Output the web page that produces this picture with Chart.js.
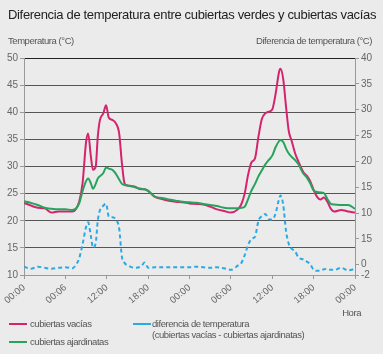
<!DOCTYPE html>
<html>
<head>
<meta charset="utf-8">
<script src="https://cdn.jsdelivr.net/npm/chart.js@4"></script>
<style>
  body { margin: 0; background: #ebebeb; }
  #wrap { position: relative; width: 383px; height: 354px; font-family: "Liberation Sans", Arial, sans-serif; color: #555; overflow: hidden; }
  #wrap canvas { position: absolute; left: 0; top: 0; }
  .txt { position: absolute; white-space: nowrap; }
  .title { left: 8px; top: 7px; font-size: 13px; color: #222; letter-spacing: -0.33px; }
  .axt { top: 35px; font-size: 9.5px; letter-spacing: -0.45px; }
  .leg { font-size: 9.5px; letter-spacing: -0.45px; line-height: 11px; }
  .sw { position: absolute; height: 2px; width: 18px; }
</style>
</head>
<body>
<div id="wrap">
  <canvas id="chart" width="383" height="354"></canvas>
  <div class="txt title">Diferencia de temperatura entre cubiertas verdes y cubiertas vacías</div>
  <div class="txt axt" style="left:8px">Temperatura (°C)</div>
  <div class="txt axt" style="right:11px">Diferencia de temperatura (°C)</div>
  <div class="txt leg" style="right:22px;top:307px">Hora</div>
  <div class="sw" style="left:9px;top:323px;background:#d4246e"></div>
  <div class="txt leg" style="left:30px;top:318px">cubiertas vacías</div>
  <div class="sw" style="left:9px;top:341px;background:#27a35b"></div>
  <div class="txt leg" style="left:30px;top:336px">cubiertas ajardinatas</div>
  <div class="sw" style="left:133px;top:323px;background:#2aaae2"></div>
  <div class="txt leg" style="left:152px;top:318px">diferencia de temperatura<br>(cubiertas vacías - cubiertas ajardinatas)</div>
</div>
<script>
const hours = [0, 1, 2, 3, 4, 5, 6, 7, 7.5, 8, 8.5, 9, 9.3, 9.7, 10, 10.4, 10.7, 11, 11.5, 11.9,
  12.3, 12.8, 13.3, 13.8, 14.2, 14.6, 15, 16, 17, 17.5, 18, 19, 20, 21, 22, 23, 24, 25, 26, 27,
  28, 29, 30, 31, 31.5, 32, 32.5, 33, 33.5, 34, 34.5, 35, 35.5, 36, 36.5, 37, 37.2, 37.6, 38, 38.4,
  38.8, 39.3, 39.8, 40.5, 41, 41.5, 42, 42.5, 43, 43.5, 44, 44.5, 45, 46, 47, 48];

const cubiertasVacias = [23.3, 22.8, 22.4, 22.3, 21.5, 21.7, 21.7, 21.7, 22.1, 23.5, 27.0, 34.5, 36.1, 31.8, 29.4, 30.0, 35.5, 38.5, 39.8, 41.3,
  39.0, 38.6, 38.0, 36.1, 30.6, 26.8, 26.5, 26.3, 25.8, 25.8, 25.5, 24.4, 24.0, 23.7, 23.5, 23.4, 23.2, 23.1, 23.0, 22.6,
  22.1, 21.8, 21.5, 22.1, 23.0, 25.0, 28.5, 30.8, 31.5, 35.5, 38.8, 39.8, 40.1, 40.5, 43.5, 47.5, 48.0, 46.0, 41.0, 36.5,
  34.8, 32.5, 30.9, 29.0, 28.3, 27.3, 25.7, 24.4, 23.9, 24.3, 23.5, 22.2, 21.7, 22.0, 21.7, 21.5];

const cubiertasAjardinatas = [23.6, 23.3, 22.9, 22.4, 22.2, 22.1, 22.1, 22.0, 22.2, 23.2, 25.5, 27.3, 27.8, 26.9, 25.9, 26.8, 27.8, 28.2, 28.8, 29.8,
  29.6, 29.4, 28.7, 27.6, 26.8, 26.6, 26.5, 26.2, 25.9, 25.8, 25.5, 24.4, 24.2, 23.9, 23.7, 23.5, 23.4, 23.3, 23.1, 22.9,
  22.7, 22.4, 22.3, 22.3, 22.4, 22.6, 24.0, 25.6, 26.8, 28.2, 29.3, 30.4, 31.2, 32.0, 33.6, 34.7, 34.9, 34.5, 33.3, 32.4,
  31.8, 31.2, 30.4, 28.7, 28.0, 26.9, 25.6, 25.3, 25.2, 25.1, 24.0, 23.1, 23.0, 22.9, 22.9, 22.2];

const diferencia = [-0.4, -0.8, -0.4, -0.6, -0.8, -0.6, -0.5, -0.7, -0.1, 1.2, 4.0, 7.3, 8.2, 5.5, 3.3, 4.2, 8.5, 10.5, 11.4, 11.8,
  9.3, 9.2, 8.8, 7.0, 1.5, 0.3, -0.1, -0.6, -0.3, 0.4, -0.6, -0.5, -0.5, -0.5, -0.5, -0.5, -0.5, -0.4, -0.5, -0.6,
  -0.5, -0.7, -1.0, -0.2, 0.3, 1.8, 3.8, 5.0, 5.4, 8.5, 9.4, 9.8, 8.8, 8.7, 10.0, 12.8, 13.4, 11.5, 6.5, 4.0,
  3.1, 2.6, 1.4, 1.0, 0.6, 0.1, -1.0, -1.2, -1.1, -0.9, -0.8, -1.0, -1.0, -0.6, -1.1, -0.8];

const timeLabels = ["00:00", "00:06", "12:00", "18:00", "00:00", "06:00", "12:00", "18:00", "00:00"];
const diffTicks = [-2, 0, 5, 10, 15, 20, 25, 30, 35, 40];
const diffTickLabels = ["-2", "0", "15", "10", "15", "20", "25", "30", "35", "40"];

const tickFont = { family: "'Liberation Sans', Arial, sans-serif", size: 10 };

function toPoints(values) {
  return values.map((v, i) => ({ x: hours[i], y: v }));
}

new Chart(document.getElementById("chart"), {
  type: "line",
  data: {
    datasets: [
      {
        label: "diferencia de temperatura",
        data: toPoints(diferencia),
        yAxisID: "y2",
        borderColor: "#2aaae2",
        borderWidth: 2,
        borderDash: [4, 3],
      },
      {
        label: "cubiertas ajardinatas",
        data: toPoints(cubiertasAjardinatas),
        yAxisID: "y",
        borderColor: "#27a35b",
        borderWidth: 2,
      },
      {
        label: "cubiertas vacías",
        data: toPoints(cubiertasVacias),
        yAxisID: "y",
        borderColor: "#d4246e",
        borderWidth: 2,
      },
    ],
  },
  options: {
    responsive: false,
    animation: false,
    layout: { padding: { top: 58, left: 0, right: 0, bottom: 0 } },
    elements: {
      point: { radius: 0 },
      line: { cubicInterpolationMode: "monotone" },
    },
    plugins: { legend: { display: false }, tooltip: { enabled: false } },
    scales: {
      x: {
        type: "linear",
        min: 0,
        max: 48,
        afterBuildTicks: (scale) => {
          scale.ticks = timeLabels.map((_, i) => ({ value: i * 6 }));
        },
        afterFit: (scale) => {
          scale.height = 79;
        },
        ticks: {
          callback: (value) => timeLabels[value / 6],
          minRotation: 40,
          maxRotation: 40,
          autoSkip: false,
          padding: 3,
          color: "#666",
          font: { family: tickFont.family, size: 9.5 },
        },
        grid: { drawOnChartArea: false, tickLength: 4, color: "#999" },
        border: { color: "#999" },
      },
      y: {
        position: "left",
        min: 10,
        max: 50,
        afterFit: (scale) => {
          scale.width = 24;
        },
        ticks: { stepSize: 5, padding: 2, color: "#666", font: tickFont },
        grid: {
          tickLength: 4,
          tickColor: "#999",
          color: (ctx) => (ctx.tick && ctx.tick.value === 50 ? "#222" : "#555"),
        },
        border: { color: "#999" },
      },
      y2: {
        position: "right",
        min: -2,
        max: 40,
        afterBuildTicks: (scale) => {
          scale.ticks = diffTicks.map((v) => ({ value: v }));
        },
        afterFit: (scale) => {
          scale.width = 28;
        },
        ticks: {
          autoSkip: false,
          padding: 2,
          color: "#666",
          font: tickFont,
          callback: (value) => diffTickLabels[diffTicks.indexOf(value)],
        },
        grid: { drawOnChartArea: false, tickLength: 4, color: "#999" },
        border: { color: "#999" },
      },
    },
  },
});
</script>
</body>
</html>
